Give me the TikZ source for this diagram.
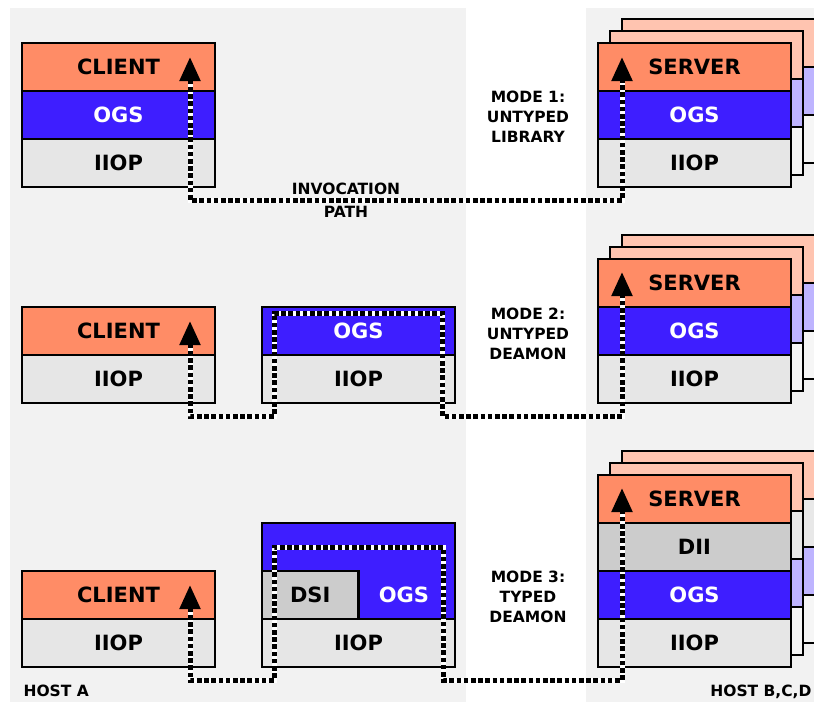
\documentclass[tikz,border=0pt]{standalone}
\usepackage{fontspec}
\setmainfont{DejaVu Sans}
\usetikzlibrary{arrows.meta}
\definecolor{appsalmon}{RGB}{255,140,102}
\definecolor{ogsblue}{RGB}{62,30,255}
\definecolor{iiopgray}{RGB}{230,230,230}
\definecolor{diigray}{RGB}{204,204,204}
\definecolor{ghostapp}{RGB}{255,196,176}
\definecolor{ghostogs}{RGB}{190,180,255}
\definecolor{ghostiiop}{RGB}{246,246,246}
\definecolor{ghostdii}{RGB}{232,232,232}
\definecolor{panelgray}{RGB}{242,242,242}
\begin{document}
\begin{tikzpicture}[x=1pt,y=-1pt,every node/.style={font=\bfseries\fontsize{15.5}{20}\selectfont},
  layer/.style={draw=black,line width=2.8pt,minimum width=193pt,minimum height=48pt,inner sep=0pt,
    font=\bfseries\fontsize{21}{25}\selectfont},
  app/.style={layer,fill=appsalmon},
  ogs/.style={layer,fill=ogsblue,text=white},
  iiop/.style={layer,fill=iiopgray},
  dii/.style={layer,fill=diigray},
  gapp/.style={layer,fill=ghostapp},
  gogs/.style={layer,fill=ghostogs},
  giiop/.style={layer,fill=ghostiiop},
  gdii/.style={layer,fill=ghostdii},
  flow/.style={line width=5pt,dash pattern=on 4.6pt off 2.6pt,
    {Triangle[length=24pt,width=20pt]}-{Triangle[length=24pt,width=20pt]},
    preaction={draw=white,solid,line width=5pt,arrows=-,shorten <=20pt,shorten >=20pt}}]
\useasboundingbox (0,0) rectangle (814,702);
% host panels
\fill[panelgray] (10,8) rectangle (466,702);
\fill[panelgray] (586,8) rectangle (814,702);
\node[anchor=west] (hosta) at (20,691) {HOST A};
\node[anchor=east] (hostb) at (815,692) {HOST B,C,D};
% mode 1: untyped library
\node[app] (c1app) at (118.5,67) {CLIENT};
\node[ogs] (c1ogs) at (118.5,115) {OGS};
\node[iiop] (c1iiop) at (118.5,163) {IIOP};
\node[gapp] (s1g2app) at (718.5,43) {};
\node[gogs] (s1g2ogs) at (718.5,91) {};
\node[giiop] (s1g2iiop) at (718.5,139) {};
\node[gapp] (s1g1app) at (706.5,55) {};
\node[gogs] (s1g1ogs) at (706.5,103) {};
\node[giiop] (s1g1iiop) at (706.5,151) {};
\node[app] (s1app) at (694.5,67) {SERVER};
\node[ogs] (s1ogs) at (694.5,115) {OGS};
\node[iiop] (s1iiop) at (694.5,163) {IIOP};
\node[align=center] (mode1) at (528,117) {MODE 1:\\UNTYPED\\LIBRARY};
\coordinate (c1tip) at (190,57);
\coordinate (s1tip) at (622,57);
\coordinate (m1low) at (400,200);
\draw[flow] (c1tip) |- (m1low) -| (s1tip);
\node[align=center] (invpath) at (346,200) {INVOCATION\\[3pt]PATH};
% mode 2: untyped deamon
\node[app] (c2app) at (118.5,331) {CLIENT};
\node[iiop] (c2iiop) at (118.5,379) {IIOP};
\node[ogs] (d2ogs) at (358.5,331) {OGS};
\node[iiop] (d2iiop) at (358.5,379) {IIOP};
\node[gapp] (s2g2app) at (718.5,259) {};
\node[gogs] (s2g2ogs) at (718.5,307) {};
\node[giiop] (s2g2iiop) at (718.5,355) {};
\node[gapp] (s2g1app) at (706.5,271) {};
\node[gogs] (s2g1ogs) at (706.5,319) {};
\node[giiop] (s2g1iiop) at (706.5,367) {};
\node[app] (s2app) at (694.5,283) {SERVER};
\node[ogs] (s2ogs) at (694.5,331) {OGS};
\node[iiop] (s2iiop) at (694.5,379) {IIOP};
\node[align=center] (mode2) at (528,334) {MODE 2:\\UNTYPED\\DEAMON};
\coordinate (c2tip) at (190,321);
\coordinate (s2tip) at (622,272);
\coordinate (d2in) at (274,313);
\coordinate (d2out) at (442,313);
\coordinate (m2a) at (274,416);
\coordinate (m2b) at (442,416);
\draw[flow] (c2tip) |- (m2a) -- (d2in) -- (d2out) -- (m2b) -| (s2tip);
% mode 3: typed deamon
\node[app] (c3app) at (118.5,595) {CLIENT};
\node[iiop] (c3iiop) at (118.5,643) {IIOP};
\node[ogs,minimum height=96pt] (d3ogs) at (358.5,571) {};
\node[dii,minimum width=96.5pt] (d3dsi) at (310.25,595) {DSI};
\node[text=white,font=\bfseries\fontsize{21}{25}\selectfont] (d3ogslab) at (404,595) {OGS};
\node[iiop] (d3iiop) at (358.5,643) {IIOP};
\node[gapp] (s3g2app) at (718.5,475) {};
\node[gdii] (s3g2dii) at (718.5,523) {};
\node[gogs] (s3g2ogs) at (718.5,571) {};
\node[giiop] (s3g2iiop) at (718.5,619) {};
\node[gapp] (s3g1app) at (706.5,487) {};
\node[gdii] (s3g1dii) at (706.5,535) {};
\node[gogs] (s3g1ogs) at (706.5,583) {};
\node[giiop] (s3g1iiop) at (706.5,631) {};
\node[app] (s3app) at (694.5,499) {SERVER};
\node[dii] (s3dii) at (694.5,547) {DII};
\node[ogs] (s3ogs) at (694.5,595) {OGS};
\node[iiop] (s3iiop) at (694.5,643) {IIOP};
\node[align=center] (mode3) at (528,597) {MODE 3:\\TYPED\\DEAMON};
\coordinate (c3tip) at (190,585);
\coordinate (s3tip) at (622,488);
\coordinate (d3in) at (274,547);
\coordinate (d3out) at (443,547);
\coordinate (m3a) at (274,680);
\coordinate (m3b) at (443,680);
\draw[flow] (c3tip) |- (m3a) -- (d3in) -- (d3out) -- (m3b) -| (s3tip);
\end{tikzpicture}
\end{document}
